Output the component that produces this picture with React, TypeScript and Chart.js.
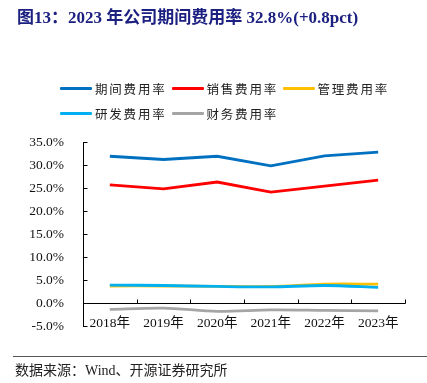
import React, { useEffect, useRef } from "react";
import { Chart, registerables } from "chart.js";

Chart.register(...registerables);

const categories = ["2018年", "2019年", "2020年", "2021年", "2022年", "2023年"];
const periodRate = [31.9, 31.2, 31.9, 29.8, 32.0, 32.8];
const salesRate = [25.7, 24.8, 26.3, 24.1, 25.4, 26.7];
const adminRate = [3.7, 3.7, 3.6, 3.6, 4.1, 4.1];
const rdRate = [3.9, 3.8, 3.6, 3.5, 3.8, 3.4];
const financeRate = [-1.4, -1.1, -1.8, -1.5, -1.6, -1.7];
const yMin = -5;
const yMax = 35;
const yStep = 5;

const seriesNames = ["期间费用率", "销售费用率", "管理费用率", "研发费用率", "财务费用率"];
const seriesData = [periodRate, salesRate, adminRate, rdRate, financeRate];
const seriesColors = ["#0070C0", "#FF0000", "#FFC000", "#00B0F0", "#A5A5A5"];
const seriesTension = [0, 0, 0.3, 0.3, 0.3];
const seriesOrder = [1, 1, 2, 0, 1];

const legendPos = [
  { x: 60, y: 88 },
  { x: 171.5, y: 88 },
  { x: 282.5, y: 88 },
  { x: 60, y: 113 },
  { x: 171.5, y: 113 },
];

const serif = "'Liberation Serif', 'Noto Sans CJK SC', serif";

const axisPlugin = {
  id: "axisMarks",
  beforeDatasetsDraw(chart: any) {
    const { ctx, chartArea, scales } = chart;
    const x = scales.x;
    const y = scales.y;
    ctx.save();
    ctx.strokeStyle = "#000";
    ctx.lineWidth = 1;
    ctx.beginPath();
    const y0 = Math.round(y.getPixelForValue(0)) + 0.5;
    ctx.moveTo(chartArea.left, y0);
    ctx.lineTo(Math.round(chartArea.right) + 0.5, y0);
    for (let i = 1; i <= categories.length; i++) {
      const px = Math.round(x.getPixelForValue(i - 0.5)) + 0.5;
      ctx.moveTo(px, y0);
      ctx.lineTo(px, y0 - 4);
    }
    const ax = Math.round(chartArea.left) + 0.5;
    ctx.moveTo(ax, Math.round(y.getPixelForValue(yMax)));
    ctx.lineTo(ax, Math.round(y.getPixelForValue(yMin)) + 1);
    for (let v = yMin; v <= yMax; v += yStep) {
      const py = Math.round(y.getPixelForValue(v)) + 0.5;
      ctx.moveTo(ax, py);
      ctx.lineTo(ax + 4, py);
    }
    ctx.stroke();

    // category labels, drawn at the low end of the value axis
    ctx.fillStyle = "#111";
    ctx.font = "13.5px " + serif;
    ctx.textAlign = "center";
    ctx.textBaseline = "middle";
    const ly = y.getPixelForValue(yMin) - 3;
    const labels: string[] = chart.data.labels;
    labels.forEach((lab, i) => {
      ctx.fillText(lab, x.getPixelForValue(i), ly);
    });
    ctx.restore();
  },
};

export default function App() {
  const canvasRef = useRef<HTMLCanvasElement | null>(null);

  useEffect(() => {
    if (!canvasRef.current) return;
    const chart = new Chart(canvasRef.current, {
      type: "line",
      data: {
        labels: categories,
        datasets: seriesNames.map((name, i) => ({
          label: name,
          data: seriesData[i],
          borderColor: seriesColors[i],
          backgroundColor: seriesColors[i],
          borderWidth: 2.8,
          pointRadius: 0,
          tension: seriesTension[i],
          order: seriesOrder[i],
          fill: false,
        })),
      },
      options: {
        responsive: false,
        animation: false,
        layout: { padding: { top: 142, right: 22, left: 0, bottom: 0 } },
        plugins: { legend: { display: false }, tooltip: { enabled: false } },
        scales: {
          x: {
            type: "category",
            offset: true,
            grid: { display: false },
            border: { display: false },
            ticks: { display: false },
            afterFit: (s: any) => {
              s.height = 57;
            },
          },
          y: {
            min: yMin,
            max: yMax,
            grid: { display: false },
            border: { display: false },
            ticks: {
              stepSize: yStep,
              color: "#111",
              padding: 11,
              font: { family: serif, size: 13.5 },
              callback: (v: any) => Number(v).toFixed(1) + "%",
            },
            afterFit: (s: any) => {
              s.width = 83;
            },
          },
        },
      },
      plugins: [axisPlugin],
    });
    return () => chart.destroy();
  }, []);

  return (
    <div
      style={{
        position: "fixed",
        left: 0,
        top: 0,
        width: 427,
        height: 383,
        background: "#fff",
        overflow: "hidden",
      }}
    >
      <canvas
        ref={canvasRef}
        width={427}
        height={383}
        style={{ position: "absolute", left: 0, top: 0, width: 427, height: 383 }}
      />
      <div
        style={{
          position: "absolute",
          left: 17,
          top: 7,
          fontFamily: serif,
          fontWeight: 700,
          fontSize: 17,
          lineHeight: "22px",
          color: "#1c2080",
          whiteSpace: "nowrap",
        }}
      >
        图13：2023 年公司期间费用率 32.8%(+0.8pct)
      </div>
      {seriesNames.map((name, i) => (
        <div
          key={name}
          style={{
            position: "absolute",
            left: legendPos[i].x,
            top: legendPos[i].y - 10,
            height: 20,
            display: "flex",
            alignItems: "center",
            whiteSpace: "nowrap",
          }}
        >
          <span
            style={{
              display: "inline-block",
              width: 32,
              height: 3,
              background: seriesColors[i],
              borderRadius: 1,
            }}
          />
          <span
            style={{
              marginLeft: 3,
              fontFamily: "'Noto Sans CJK SC', sans-serif",
              fontSize: 12.5,
              letterSpacing: 1.8,
              color: "#222",
            }}
          >
            {name}
          </span>
        </div>
      ))}
      <div
        style={{
          position: "absolute",
          left: 13,
          top: 356,
          width: 414,
          height: 0,
          borderTop: "1.5px solid #555",
        }}
      />
      <div
        style={{
          position: "absolute",
          left: 15,
          top: 361,
          fontFamily: serif,
          fontSize: 14,
          lineHeight: "20px",
          color: "#222",
          whiteSpace: "nowrap",
        }}
      >
        数据来源：Wind、开源证券研究所
      </div>
    </div>
  );
}
